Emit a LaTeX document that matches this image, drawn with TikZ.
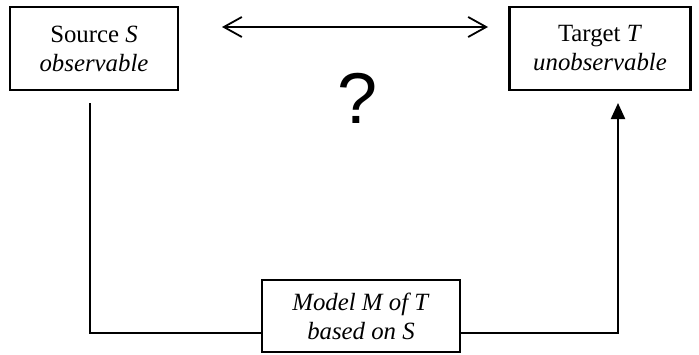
\documentclass[tikz,border=0pt]{standalone}
\usepackage{fontspec}
\setmainfont{Liberation Serif}
\newfontfamily\qfont{Liberation Sans}
\usetikzlibrary{arrows.meta,calc}
\tikzset{
  box/.style={draw, line width=1.1pt, align=center, inner sep=0pt, font=\fontsize{12.4}{14.5}\selectfont},
  conn/.style={line width=1.1pt},
}
\begin{document}
\begin{tikzpicture}[x=0.5pt,y=-0.5pt]
\useasboundingbox (0,0) rectangle (699,354);
\node[box, minimum width=168*0.5pt, minimum height=83*0.5pt] (S) at (94,48.5) {Source \textit{S}\\\textit{observable}};
\node[box, minimum width=181*0.5pt, minimum height=83*0.5pt] (T) at (600,48.5) {Target \textit{T}\\\textit{unobservable}};
\node[box, minimum width=198*0.5pt, minimum height=72*0.5pt] (M) at (361,316) {\textit{Model M of T}\\\textit{based on S}};
\node[font=\qfont\fontsize{36}{38}\selectfont, inner sep=0pt] (Q) at (358,98) {?};
\coordinate (al) at (222,27);
\coordinate (ar) at (488,27);
\draw[conn, line width=0.9pt, {Straight Barb[length=9pt,width=10pt]}-{Straight Barb[length=9pt,width=10pt]}] (al) -- (ar);
\coordinate (sl) at (90,103);
\coordinate (tr) at (618,103);
\coordinate (yl) at (0,333);
\draw[conn] (sl) |- (M.west |- yl);
\draw[conn, -{Triangle[length=8pt,width=7pt]}] (M.east |- yl) -| (tr);
\end{tikzpicture}
\end{document}
